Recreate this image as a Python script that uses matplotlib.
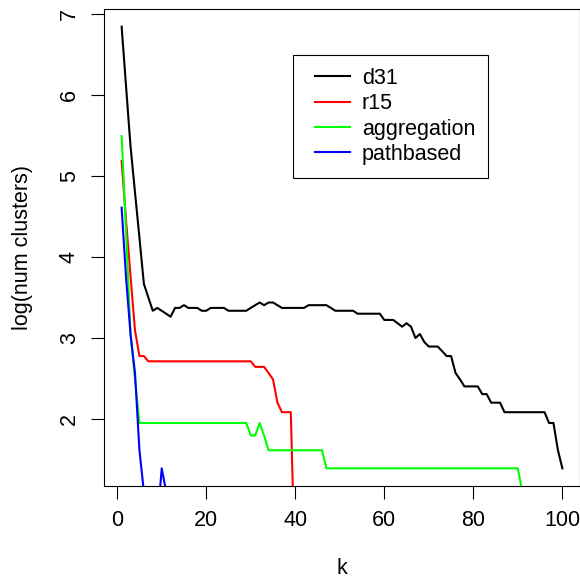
import matplotlib
matplotlib.use('Agg')
import matplotlib.pyplot as plt
from matplotlib.lines import Line2D
from matplotlib.legend_handler import HandlerLine2D
import numpy as np

# number of clusters for k = 1, 2, 3, ...
d31 = [935, 445, 213, 121, 69, 39, 33, 28, 29, 28,
       27, 26, 29, 29, 30, 29, 29, 29, 28, 28,
       29, 29, 29, 29, 28, 28, 28, 28, 28, 29,
       30, 31, 30, 31, 31, 30, 29, 29, 29, 29,
       29, 29, 30, 30, 30, 30, 30, 29, 28, 28,
       28, 28, 28, 27, 27, 27, 27, 27, 27, 25,
       25, 25, 24, 23, 24, 23, 20, 21, 19, 18,
       18, 18, 17, 16, 16, 13, 12, 11, 11, 11,
       11, 10, 10, 9, 9, 9, 8, 8, 8, 8,
       8, 8, 8, 8, 8, 8, 7, 7, 5, 4]
r15 = [178, 85, 43, 22, 16, 16] + [15] * 24 + [14, 14, 14, 13, 12, 9, 8, 8, 8, 1]
aggregation = [242, 74, 21, 12] + [7] * 25 + [6, 6, 7, 6] + [5] * 13 + [4] * 44 + [3]
pathbased = [100, 42, 21, 13, 5, 3, 2, 2, 2, 4, 3, 2]

names = ['d31', 'r15', 'aggregation', 'pathbased']
colors = ['black', '#ff0000', '#00ff00', '#0000ff']

plt.rcParams['font.family'] = ['Liberation Sans', 'DejaVu Sans']
fs = 15.5

fig = plt.figure(figsize=(5.8, 5.81), dpi=100)
ax = fig.add_axes([104 / 580, 1 - 486 / 581, 476 / 580, 477 / 581])

for series, name, c in zip([d31, r15, aggregation, pathbased], names, colors):
    k = np.arange(1, len(series) + 1)
    ax.plot(k, np.log(series), color=c, lw=1.5, label=name)

# R style axis ranges (4% extension of the first series)
y0 = np.log(d31)
span = y0.max() - y0.min()
ax.set_xlim(1 - 0.04 * 99, 100 + 0.04 * 99)
ax.set_ylim(y0.min() - 0.04 * span, y0.max() + 0.04 * span)

ax.set_xticks([0, 20, 40, 60, 80, 100])
ax.set_yticks([2, 3, 4, 5, 6, 7])
ax.tick_params(direction='out', length=9.4, width=0.8, labelsize=fs, pad=8)
for lbl in ax.get_yticklabels():
    lbl.set_rotation(90)
    lbl.set_va('center')
for sp in ax.spines.values():
    sp.set_linewidth(0.8)

ax.set_xlabel('k', fontsize=fs)
ax.xaxis.set_label_coords(0.5, (486 - 558) / 477)
ax.set_ylabel('log(num clusters)', fontsize=fs)
ax.yaxis.set_label_coords((33 - 104) / 476, 0.5)

leg = ax.legend(loc='upper left', bbox_to_anchor=((293 - 104) / 476, (486 - 55) / 477),
                borderaxespad=0, fontsize=fs, fancybox=False, framealpha=1,
                edgecolor='black', handlelength=2.04, handletextpad=0.55,
                borderpad=0.6, labelspacing=0.2,
                handler_map={Line2D: HandlerLine2D(xpad=0.42)})
leg.get_frame().set_linewidth(0.8)

plt.savefig('out.png', dpi=100)
